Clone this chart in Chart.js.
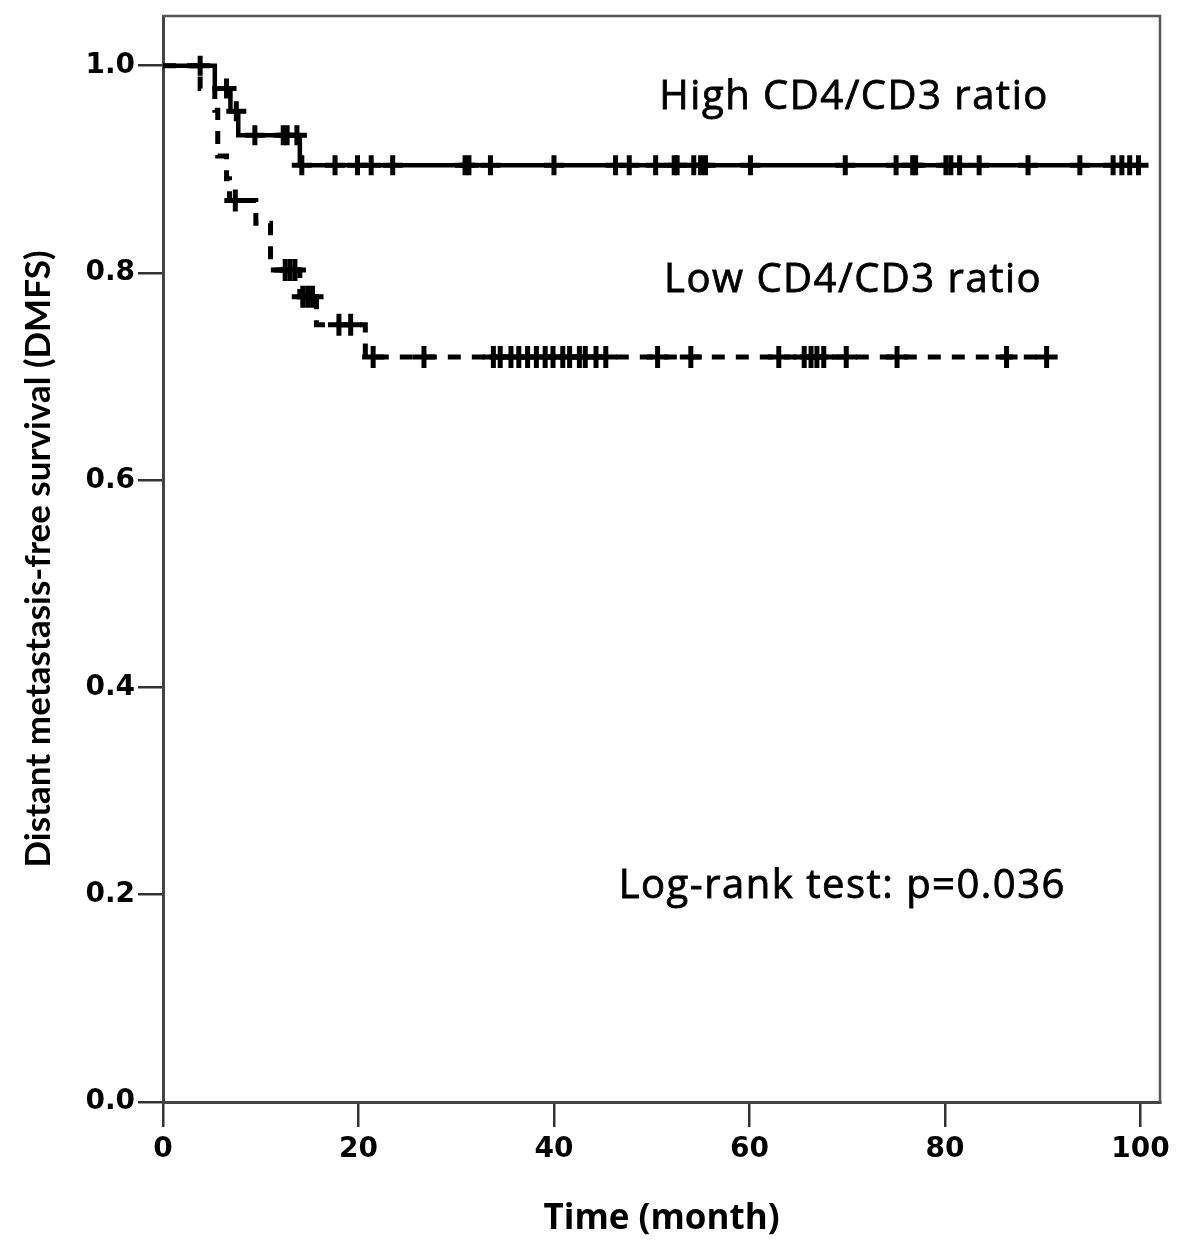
<!DOCTYPE html>
<html>
<head>
<meta charset="utf-8">
<script src="https://cdn.jsdelivr.net/npm/chart.js@4.4.0/dist/chart.umd.min.js"></script>
<style>
	html, body { margin: 0; padding: 0; background: #fff; }
</style>
</head>
<body>
<canvas id="chart" width="1200" height="1248"></canvas>
<script>
const xTicks = [0, 20, 40, 60, 80, 100];
const yTicks = [0, 0.2, 0.4, 0.6, 0.8, 1.0];

// Kaplan-Meier steps: event time (month) and survival after it
const highTimes = [0, 5.3, 6.9, 7.7, 14.0, 99.8];
const highSurv = [1, 0.978, 0.956, 0.933, 0.904, 0.904];
const highCensored = [
	3.8, 6.5, 7.5, 9.4, 12.3, 12.7, 13.7, 14.2, 17.6, 19.9, 21.3, 23.5, 30.9,
	31.3, 33.5, 40.0, 46.3, 47.7, 50.4, 52.3, 52.6, 54.3, 55.0, 55.5, 60.1,
	69.8, 75.0, 76.7, 77.0, 80.1, 80.6, 81.5, 83.5, 88.5, 93.8, 97.2, 98.1,
	98.9, 99.8,
];

const lowTimes = [0, 3.8, 5.3, 5.6, 6.5, 6.8, 9.5, 11.0, 14.0, 15.7, 20.7, 90.4];
const lowSurv = [1, 0.978, 0.957, 0.913, 0.891, 0.870, 0.848, 0.803, 0.777, 0.750, 0.719, 0.719];
const lowCensored = [
	7.4, 12.5, 13.0, 13.5, 14.3, 14.8, 15.3, 18.0, 19.2, 21.5, 26.7, 33.8,
	34.5, 35.6, 36.4, 37.3, 38.2, 39.1, 39.9, 40.9, 41.6, 42.6, 43.2, 44.3,
	45.3, 50.6, 54.0, 63.0, 65.6, 66.3, 66.9, 67.6, 69.9, 75.1, 86.3, 90.4,
];

// survival level of a curve at time t (for placing censor marks)
function survAt(times, surv, t) {
	let s = surv[0];
	for (let i = 0; i < times.length; i++) {
		if (times[i] <= t) s = surv[i];
	}
	return s;
}

const steps = (times, surv) => times.map((t, i) => ({ x: t, y: surv[i] }));
const marks = (list, times, surv) => list.map((t) => ({ x: t, y: survAt(times, surv, t) }));

// text written inside the plot
const notes = [
	{ text: 'High CD4/CD3 ratio', x: 70.7, y: 0.969 },
	{ text: 'Low CD4/CD3 ratio', x: 70.6, y: 0.793 },
	{ text: 'Log-rank test: p=0.036', x: 69.5, y: 0.208 },
];

const notesPlugin = {
	id: 'notes',
	afterDatasetsDraw(chart) {
		const { ctx, scales } = chart;
		ctx.save();
		ctx.fillStyle = '#000';
		ctx.strokeStyle = '#000';
		ctx.lineWidth = 0.8;
		ctx.font = '40px "Open Sans"';
		ctx.letterSpacing = '1.5px';
		ctx.textAlign = 'center';
		ctx.textBaseline = 'middle';
		notes.forEach((n) => {
			const px = scales.x.getPixelForValue(n.x);
			const py = scales.y.getPixelForValue(n.y);
			ctx.fillText(n.text, px, py);
			ctx.strokeText(n.text, px, py);
		});
		ctx.restore();
	},
};

// top and right edges of the plot frame
const framePlugin = {
	id: 'frame',
	beforeDatasetsDraw(chart) {
		const { ctx, chartArea: a } = chart;
		ctx.save();
		ctx.strokeStyle = '#555';
		ctx.lineWidth = 2.5;
		ctx.beginPath();
		ctx.moveTo(a.left, a.top);
		ctx.lineTo(a.right, a.top);
		ctx.lineTo(a.right, a.bottom);
		ctx.stroke();
		ctx.restore();
	},
};

const tickFont = { family: '"DejaVu Sans"', size: 28, weight: 'bold' };

new Chart(document.querySelector('#chart').getContext('2d'), {
	type: 'scatter',
	data: {
		datasets: [
			{
				label: 'High CD4/CD3 ratio',
				data: steps(highTimes, highSurv),
				showLine: true,
				stepped: true,
				borderColor: '#000',
				borderWidth: 4.5,
				pointRadius: 0,
			},
			{
				label: 'Low CD4/CD3 ratio',
				data: steps(lowTimes, lowSurv),
				showLine: true,
				stepped: true,
				borderColor: '#000',
				borderWidth: 5,
				borderDash: [13, 11],
				pointRadius: 0,
			},
			{
				label: 'High censored',
				data: marks(highCensored, highTimes, highSurv),
				pointStyle: 'cross',
				pointRadius: 10,
				borderColor: '#000',
				borderWidth: 5,
			},
			{
				label: 'Low censored',
				data: marks(lowCensored, lowTimes, lowSurv),
				pointStyle: 'cross',
				pointRadius: 11,
				borderColor: '#000',
				borderWidth: 5,
			},
		],
	},
	options: {
		responsive: false,
		animation: false,
		clip: false,
		layout: { padding: { top: 4, right: 40, left: 0, bottom: 0 } },
		plugins: { legend: { display: false }, tooltip: { enabled: false } },
		scales: {
			x: {
				min: 0,
				max: 102,
				afterBuildTicks: (s) => { s.ticks = xTicks.map((v) => ({ value: v })); },
				afterFit: (s) => { s.height = 146; s.paddingLeft = 0; s.paddingRight = 0; },
				ticks: { font: tickFont, color: '#000', padding: 6, maxRotation: 0 },
				grid: { drawOnChartArea: false, tickLength: 25, color: '#333', lineWidth: 2.5 },
				border: { color: '#444', width: 3 },
				title: {
					display: true,
					text: 'Time (month)',
					color: '#000',
					font: { family: '"Open Sans"', size: 35, weight: 'bold' },
					padding: { bottom: 8 },
				},
			},
			y: {
				min: 0,
				max: 1.048,
				afterBuildTicks: (s) => { s.ticks = yTicks.map((v) => ({ value: v })); },
				afterFit: (s) => { s.width = 163; s.paddingTop = 0; s.paddingBottom = 0; },
				ticks: { font: tickFont, color: '#000', padding: 3, callback: (v) => v.toFixed(1) },
				grid: { drawOnChartArea: false, tickLength: 25, color: '#333', lineWidth: 2.5 },
				border: { color: '#444', width: 3 },
				title: {
					display: true,
					text: 'Distant metastasis-free survival (DMFS)',
					color: '#000',
					font: { family: 'Lato', size: 35, weight: 'bold' },
					padding: { top: 18 },
				},
			},
		},
	},
	plugins: [notesPlugin, framePlugin],
});
</script>
</body>
</html>
